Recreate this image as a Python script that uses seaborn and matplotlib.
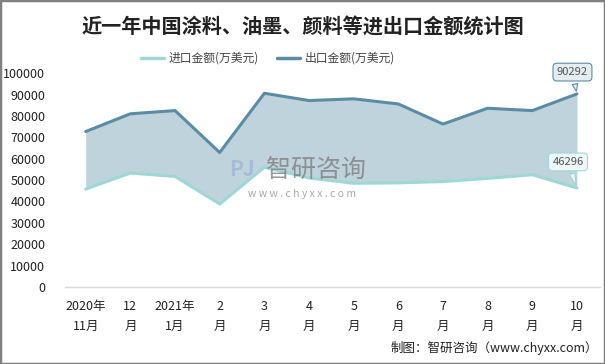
import numpy as np
import pandas as pd
import matplotlib
matplotlib.use("Agg")
import matplotlib.pyplot as plt
import seaborn as sns
from matplotlib.patches import Rectangle

# data
months = ["2020年\n11月", "12\n月", "2021年\n1月", "2\n月", "3\n月", "4\n月",
          "5\n月", "6\n月", "7\n月", "8\n月", "9\n月", "10\n月"]
import_vals = [45800, 53300, 51700, 38800, 56000, 51000, 48500, 48700, 49300, 50800, 52500, 46296]
export_vals = [72700, 81000, 82500, 62900, 90600, 87200, 88000, 85600, 76200, 83600, 82500, 90292]
series_names = ["进口金额(万美元)", "出口金额(万美元)"]
series_colors = ["#9ED8D5", "#5A8DA5"]

sns.set_style("white")
plt.rcParams['font.family'] = ['Noto Sans CJK SC', 'DejaVu Sans']

df = pd.DataFrame({
    "idx": list(range(len(months))) * 2,
    "value": import_vals + export_vals,
    "series": [series_names[0]] * len(months) + [series_names[1]] * len(months),
})

fig = plt.figure(figsize=(6.05, 3.64), dpi=100)
ax = fig.add_axes([0.107, 0.2115, 0.885, 0.5875])

ax.fill_between(range(len(months)), import_vals, export_vals, color="#BED3DC", lw=0, zorder=1)
sns.lineplot(data=df, x="idx", y="value", hue="series", palette=series_colors,
             linewidth=2.2, ax=ax, legend=False, zorder=3)

ax.set_xlim(-0.47, 11.52)
ax.set_ylim(0, 100000)
ax.set_yticks(np.arange(0, 100001, 10000))
ax.set_yticklabels([str(v) for v in range(0, 100001, 10000)], fontsize=9, color="#222222")
ax.set_xticks(range(len(months)))
ax.set_xticklabels(months, fontsize=9, color="#222222", linespacing=1.7)
ax.tick_params(axis="both", length=0)
ax.tick_params(axis="x", pad=9)
ax.tick_params(axis="y", pad=14)
ax.set_xlabel("")
ax.set_ylabel("")
for side in ["top", "right", "left"]:
    ax.spines[side].set_visible(False)
ax.spines["bottom"].set_color("#D9D9D9")
ax.spines["bottom"].set_linewidth(1)

# callouts on the last points
ax.annotate(str(export_vals[-1]), xy=(11, export_vals[-1]), xytext=(10.9, 100500),
            ha="center", va="center", fontsize=8, color="#555555",
            bbox=dict(boxstyle="round,pad=0.35", fc="#E4EDF1", ec="#5A8DA5", lw=0.8),
            arrowprops=dict(arrowstyle="wedge,tail_width=0.5", fc="#E4EDF1", ec="#5A8DA5", lw=0.8),
            zorder=5, annotation_clip=False)
ax.annotate(str(import_vals[-1]), xy=(11, import_vals[-1]), xytext=(10.8, 58500),
            ha="center", va="center", fontsize=8, color="#555555",
            bbox=dict(boxstyle="round,pad=0.35", fc="#EEF8F8", ec="#9ED8D5", lw=0.8),
            arrowprops=dict(arrowstyle="wedge,tail_width=0.5", fc="#EEF8F8", ec="#9ED8D5", lw=0.8),
            zorder=5)

# watermark
fig.text(0.522, 0.533, "智研咨询", fontsize=18, color="#808080", alpha=0.8,
         ha="center", va="center", zorder=10)
fig.text(0.5, 0.467, "w w w . c h y x x . c o m", fontsize=7.5, color="#8C8C8C",
         alpha=0.75, ha="center", va="center", zorder=10)
fig.text(0.40, 0.533, "PJ", fontsize=15, color="#9FB6D6", alpha=0.8, weight="bold",
         ha="center", va="center", zorder=10)

fig.suptitle("近一年中国涂料、油墨、颜料等进出口金额统计图", x=0.5, y=0.955,
             fontsize=14.5, weight="bold", color="#222222")

handles = [plt.Line2D([], [], color=c, lw=2.5) for c in series_colors]
fig.legend(handles, series_names, loc="center", bbox_to_anchor=(0.443, 0.84), ncol=2,
           frameon=False, fontsize=8.5, handlelength=1.9, handletextpad=0.4,
           columnspacing=1.6, labelcolor="#444444")

fig.text(0.988, 0.045, "制图：智研咨询（www.chyxx.com）", fontsize=9, color="#222222",
         ha="right", va="center")

fig.patches.append(Rectangle((0, 0), 1, 1, transform=fig.transFigure, fill=False,
                             ec="#808080", lw=2.5))

plt.savefig("out.png", dpi=100)
plt.close()
